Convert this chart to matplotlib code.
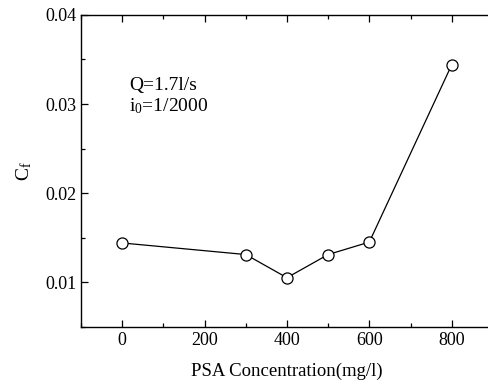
import matplotlib.pyplot as plt
from matplotlib.ticker import MultipleLocator

plt.rcParams['font.family'] = ['Liberation Serif', 'DejaVu Serif']
plt.rcParams['mathtext.fontset'] = 'custom'
plt.rcParams['mathtext.rm'] = 'Liberation Serif'
plt.rcParams['mathtext.it'] = 'Liberation Serif'

# PSA concentration (mg/l) and friction coefficient
concentration = [0, 300, 400, 500, 600, 800]
cf = [0.0144, 0.0131, 0.0105, 0.0131, 0.0145, 0.0344]

fig = plt.figure(figsize=(4.88, 3.83), dpi=100)
ax = fig.add_axes([0.166, 0.147, 0.844, 0.814])

ax.plot(concentration, cf, color='black', linewidth=0.9,
        marker='o', markersize=8, markerfacecolor='white',
        markeredgecolor='black', markeredgewidth=0.9)

ax.set_xlim(-100, 900)
ax.set_ylim(0.005, 0.04)
ax.xaxis.set_major_locator(MultipleLocator(200))
ax.xaxis.set_minor_locator(MultipleLocator(100))
ax.yaxis.set_minor_locator(MultipleLocator(0.005))
ax.set_yticks([0.01, 0.02, 0.03, 0.04])
ax.set_yticklabels(['0.01', '0.02', '0.03', '0.04'])

ax.tick_params(which='both', direction='in', top=True, right=False,
               labelsize=13, width=0.9)
ax.tick_params(which='major', length=5)
ax.tick_params(which='minor', length=3)
for s in ax.spines.values():
    s.set_linewidth(1.0)

ax.set_xlabel('PSA Concentration(mg/l)', fontsize=13.5, labelpad=10)
ax.set_ylabel(r'C$_\mathregular{f}$', fontsize=14, labelpad=8)

# flow rate and bed slope
ax.text(17, 0.0316, 'Q=1.7l/s', fontsize=14)
ax.text(17, 0.0292, r'i$_\mathregular{0}$=1/2000', fontsize=14)

plt.savefig('out.png', dpi=100)
